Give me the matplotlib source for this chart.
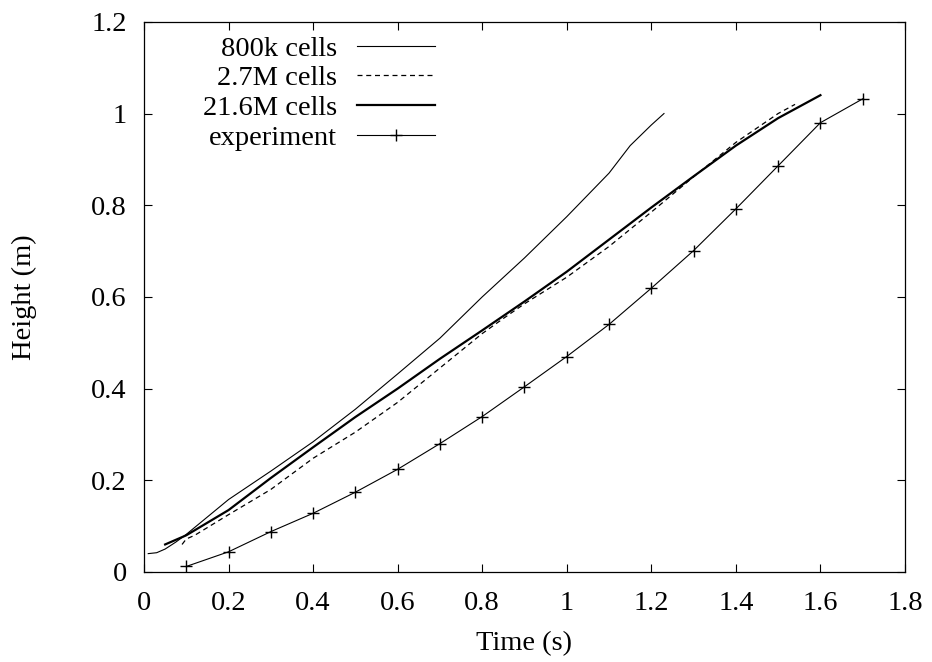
import matplotlib
matplotlib.use("Agg")
import matplotlib.pyplot as plt

# simulated heights
t_800k = [0.01, 0.03, 0.05, 0.075, 0.1, 0.15, 0.2, 0.3, 0.4, 0.5, 0.6, 0.7, 0.8, 0.9, 1.0, 1.1, 1.15, 1.2, 1.23]
h_800k = [0.04, 0.042, 0.05, 0.065, 0.082, 0.12, 0.158, 0.22, 0.284, 0.355, 0.432, 0.51, 0.60, 0.685, 0.775, 0.87, 0.93, 0.975, 1.0]

t_2_7m = [0.09, 0.1, 0.12, 0.2, 0.3, 0.4, 0.5, 0.6, 0.7, 0.8, 0.85, 0.9, 1.0, 1.1, 1.2, 1.3, 1.4, 1.5, 1.54]
h_2_7m = [0.06, 0.072, 0.08, 0.125, 0.18, 0.248, 0.305, 0.37, 0.445, 0.52, 0.553, 0.585, 0.643, 0.71, 0.785, 0.862, 0.937, 1.0, 1.02]

t_21_6m = [0.05, 0.1, 0.2, 0.3, 0.4, 0.5, 0.6, 0.7, 0.8, 0.9, 1.0, 1.1, 1.2, 1.3, 1.4, 1.5, 1.6]
h_21_6m = [0.06, 0.08, 0.135, 0.205, 0.272, 0.338, 0.40, 0.465, 0.527, 0.59, 0.655, 0.725, 0.795, 0.863, 0.93, 0.99, 1.04]

# experiment
t_exp = [0.1, 0.2, 0.3, 0.4, 0.5, 0.6, 0.7, 0.8, 0.9, 1.0, 1.1, 1.2, 1.3, 1.4, 1.5, 1.6, 1.7]
h_exp = [0.012, 0.044, 0.088, 0.128, 0.174, 0.224, 0.28, 0.339, 0.404, 0.47, 0.54, 0.619, 0.701, 0.792, 0.886, 0.98, 1.032]

xticks = [0, 0.2, 0.4, 0.6, 0.8, 1, 1.2, 1.4, 1.6, 1.8]
xlabels = ['0', '0.2', '0.4', '0.6', '0.8', '1', '1.2', '1.4', '1.6', '1.8']
yticks = [0, 0.2, 0.4, 0.6, 0.8, 1, 1.2]
ylabels = ['0', '0.2', '0.4', '0.6', '0.8', '1', '1.2']

plt.rcParams['font.family'] = ['Liberation Serif', 'DejaVu Serif']
plt.rcParams['font.size'] = 20.5

fig = plt.figure(figsize=(9.32, 6.62), dpi=100)
ax = fig.add_axes([0.1545, 0.136, 0.8165, 0.831])

ax.plot(t_800k, h_800k, color='black', lw=0.8, label='800k cells')
ax.plot(t_2_7m, h_2_7m, color='black', lw=0.9, dashes=(4, 3), label='2.7M cells')
ax.plot(t_21_6m, h_21_6m, color='black', lw=1.6, label='21.6M cells')
ax.plot(t_exp, h_exp, color='black', lw=0.8, marker='+', ms=9, mew=1, label='experiment')

ax.set_xlim(0, 1.8)
ax.set_ylim(0, 1.2)
ax.set_xticks(xticks)
ax.set_xticklabels(xlabels)
ax.set_yticks(yticks)
ax.set_yticklabels(ylabels)
ax.tick_params(direction='in', length=6, width=0.8, top=True, right=True)
ax.tick_params(axis='x', pad=13.5)
ax.tick_params(axis='y', pad=12.5)
for s in ax.spines.values():
    s.set_linewidth(0.9)

ax.set_xlabel('Time (s)', va='center')
ax.xaxis.set_label_coords(0.5, -0.13)
ax.set_ylabel('Height (m)', va='center')
ax.yaxis.set_label_coords(-0.157, 0.5)

ax.legend(loc='upper right', bbox_to_anchor=(0.3824, 0.975), frameon=False,
          markerfirst=False, handlelength=2.74, handletextpad=0.7,
          labelspacing=0.14, borderpad=0, borderaxespad=0, numpoints=1)

fig.savefig('out.png', dpi=100)
